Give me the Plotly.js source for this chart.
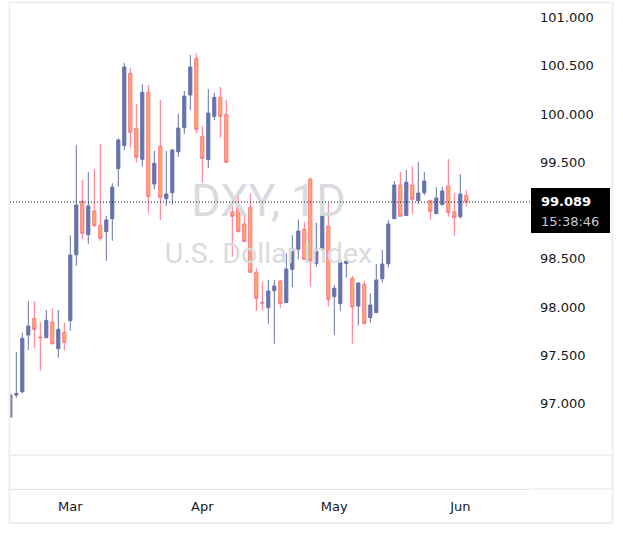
<!DOCTYPE html>
<html><head><meta charset="utf-8">
<script src="https://cdn.plot.ly/plotly-3.0.1.min.js"></script>
<style>html,body{margin:0;padding:0;background:#fff;}#chart{width:623px;height:538px;}</style>
</head><body><div id="chart"></div>
<script>
const openP = [96.863,97.091,97.125,97.712,97.885,97.691,97.684,97.847,97.570,97.740,97.860,98.543,99.099,98.751,98.996,98.848,98.782,98.916,99.434,99.672,100.421,99.852,99.531,100.225,99.275,99.666,99.123,99.185,99.610,99.858,100.197,100.577,99.769,99.527,99.976,100.173,99.997,98.986,99.045,98.861,99.034,98.361,98.051,97.995,98.171,98.271,98.047,98.392,98.599,98.806,99.324,98.454,98.592,98.841,98.109,98.038,98.452,98.299,98.012,98.237,97.891,97.943,98.295,98.450,98.916,99.265,98.949,99.265,99.102,99.185,99.107,98.968,99.061,99.255,98.986,98.937,99.158];
const highP = [97.112,97.536,97.736,98.064,98.064,97.847,97.971,97.989,97.971,97.840,98.744,99.679,99.317,99.400,99.431,99.689,98.944,99.283,99.748,100.528,100.476,100.104,100.311,100.300,99.617,100.145,99.617,99.641,100.000,100.238,100.611,100.628,99.876,100.259,100.220,100.280,100.145,99.175,99.154,98.975,99.172,98.403,98.264,98.282,98.282,98.282,98.558,98.747,98.910,98.885,99.345,98.875,99.037,99.082,98.230,98.520,98.575,98.323,98.251,98.271,98.144,98.447,98.592,98.903,99.306,99.400,99.420,99.462,99.503,99.400,99.110,99.244,99.247,99.534,99.182,99.379,99.213];
const lowP = [96.853,97.063,97.109,97.557,97.581,97.343,97.681,97.616,97.477,97.550,97.757,98.430,98.703,98.657,98.833,98.688,98.481,98.688,99.247,99.627,99.655,99.500,99.454,98.972,99.221,98.903,99.051,99.061,99.558,99.796,100.041,99.800,99.289,99.441,99.938,99.752,99.500,98.523,98.770,98.678,98.361,97.961,97.968,97.829,97.622,97.995,98.047,98.206,98.496,98.496,98.212,98.419,98.592,98.005,97.712,97.961,98.305,97.622,97.811,97.821,97.840,97.943,98.254,98.409,98.916,98.941,98.944,98.962,99.068,99.161,98.906,98.965,99.058,98.937,98.740,98.916,99.040];
const closeP = [97.091,97.107,97.678,97.805,97.771,97.684,97.864,97.622,97.771,97.637,98.540,99.058,98.765,99.048,98.844,98.713,98.903,99.244,99.731,100.487,99.811,99.552,100.225,99.148,99.490,99.138,99.172,99.627,99.855,100.186,100.487,99.842,99.541,100.010,100.173,99.976,99.500,98.941,98.786,98.680,98.361,98.092,98.043,98.168,98.219,98.040,98.395,98.592,98.789,98.496,98.481,98.582,98.965,98.082,98.196,98.468,98.478,98.002,98.251,97.831,98.023,98.282,98.447,98.861,99.265,98.941,99.293,99.117,99.182,99.306,98.993,99.130,99.203,98.982,98.927,99.172,99.089];
const monthLabels = ['Mar','Apr','May','Jun'];
const monthIndex = [10,32,54,75];
const priceTicks = [97,97.5,98,98.5,99.5,100,100.5,101];
const lastPrice = 99.089;
const lastTime = '15:38:46';
const symbolText = 'DXY, 1D';
const nameText = 'U.S. Dollar Index';

const xIdx = openP.map((_, i) => i);
const xRange = [-0.05, 86.617];
const yRange = [96.118, 101.139];
const paneBottom = 96.47;
const paneMid = (yRange[1] + paneBottom) / 2;
const xMid = (xRange[0] + xRange[1]) / 2 - 0.25;

const BLUE = '#6673AB';
const PINK = '#FF7486';
const PEACH = '#FFA96B';
const GRID = '#E0E3EB';

// pixel helpers for decorations (plot area: x 10..530, y 4..489)
const px = p => (p - 10) / 520;
const py = q => (489 - q) / 485;

const traces = [
  {type:'scatter', mode:'text', x:[xMid, xMid], y:[paneMid + 0.26, paneMid - 0.27],
   text:[symbolText, nameText], textposition:'middle center',
   textfont:{family:'Roboto, sans-serif', size:[45, 28.5], color:'#D9DBDF'},
   hoverinfo:'skip', showlegend:false},
  {type:'candlestick', x:xIdx, open:openP, high:highP, low:lowP, close:closeP,
   increasing:{line:{color:BLUE, width:1}, fillcolor:BLUE},
   decreasing:{line:{color:PINK, width:1}, fillcolor:PEACH},
   whiskerwidth:0, hoverinfo:'skip', showlegend:false}
];

const layout = {
  width:623, height:538,
  margin:{l:10, r:93, t:4, b:49},
  paper_bgcolor:'#ffffff', plot_bgcolor:'#ffffff',
  showlegend:false, hovermode:false, boxgap:0.25,
  font:{family:'DejaVu Sans, sans-serif', size:13, color:'#131722'},
  xaxis:{type:'linear', range:xRange, rangeslider:{visible:false}, showgrid:false, zeroline:false,
    showline:true, linecolor:GRID, linewidth:1, ticks:'', tickvals:monthIndex, ticktext:monthLabels,
    ticklabelstandoff:5, tickfont:{family:'DejaVu Sans, sans-serif', size:13, color:'#131722'}, fixedrange:true},
  yaxis:{range:yRange, side:'right', showgrid:false, zeroline:false, showline:false, ticks:'',
    tickvals:priceTicks, tickformat:'.3f', ticklabelstandoff:9,
    tickfont:{family:'DejaVu Sans, sans-serif', size:13, color:'#131722'}, fixedrange:true},
  shapes:[
    {type:'rect', xref:'paper', yref:'paper', x0:px(9.5), x1:px(612.5), y0:py(523), y1:py(2.5),
      line:{color:'#F0F0F2', width:2}, fillcolor:'rgba(0,0,0,0)', layer:'above'},
    {type:'line', xref:'paper', yref:'paper', x0:px(10), x1:px(612), y0:py(455), y1:py(455),
      line:{color:GRID, width:1}},
    {type:'line', xref:'paper', yref:'paper', x0:px(532), x1:px(612), y0:0, y1:0,
      line:{color:GRID, width:1}},
    {type:'line', xref:'paper', yref:'y', x0:0, x1:1, y0:lastPrice, y1:lastPrice,
      line:{color:'#131722', width:1, dash:'1px,2px'}},
    {type:'rect', xref:'paper', yref:'paper', x0:px(531), x1:px(610), y0:py(233), y1:py(188),
      line:{width:0}, fillcolor:'#000000'}
  ],
  annotations:[
    {xref:'paper', yref:'paper', x:px(539), y:py(201), xanchor:'left', yanchor:'middle', showarrow:false,
      text:'<b>' + lastPrice.toFixed(3) + '</b>', font:{family:'DejaVu Sans, sans-serif', size:13, color:'#ffffff'}},
    {xref:'paper', yref:'paper', x:px(539), y:py(222), xanchor:'left', yanchor:'middle', showarrow:false,
      text:lastTime, font:{family:'DejaVu Sans, sans-serif', size:13, color:'#C9CBD2'}}
  ]
};

Plotly.newPlot('chart', traces, layout, {displayModeBar:false, staticPlot:true});
</script></body></html>
